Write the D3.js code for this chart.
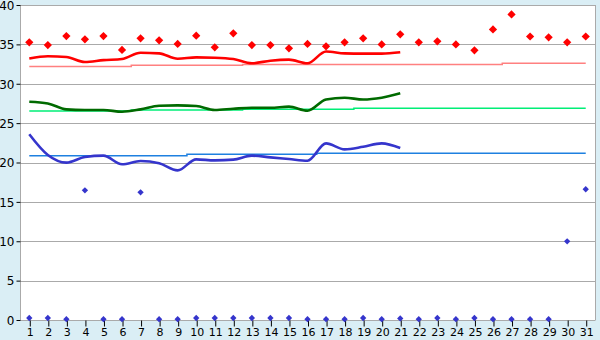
<!DOCTYPE html>
<html>
<head>
<meta charset="utf-8">
<script src="https://cdn.jsdelivr.net/npm/d3@7"></script>
<style>
  html, body { margin: 0; padding: 0; background: #daeef5; }
  svg { display: block; }
  text { font-family: "DejaVu Sans", Verdana, sans-serif; font-size: 11px; fill: #000; }
</style>
</head>
<body>
<svg width="600" height="340"></svg>
<script>
// days of the month
var days = d3.range(1, 32);

// scatter series (all days)
var redPoints = [35.26, 34.92, 36.06, 35.64, 36.06, 34.29, 35.77, 35.51, 35.05, 36.1,
                 34.62, 36.4, 34.92, 34.92, 34.5, 35.05, 34.75, 35.26, 35.77, 35.0,
                 36.28, 35.26, 35.39, 35.0, 34.24, 36.9, 38.8, 36.0, 35.9, 35.26, 36.0];
var bluePoints = [0.25, 0.25, 0.1, 16.47, 0.1, 0.1, 16.21, 0.1, 0.1, 0.25,
                  0.25, 0.25, 0.25, 0.25, 0.25, 0.1, 0.1, 0.1, 0.25, 0.1,
                  0.2, 0.1, 0.25, 0.1, 0.25, 0.1, 0.1, 0.1, 0.1, 9.99, 16.6];

// line series (days 1-21)
var redLine = [33.2, 33.5, 33.4, 32.76, 33.0, 33.14, 33.94, 33.86, 33.18, 33.35,
               33.31, 33.14, 32.6, 32.93, 33.06, 32.6, 34.1, 33.86, 33.82, 33.82, 34.0];
var greenLine = [27.72, 27.5, 26.75, 26.67, 26.67, 26.45, 26.75, 27.2, 27.26, 27.17,
                 26.67, 26.83, 26.96, 26.96, 27.09, 26.58, 28.0, 28.23, 28.0, 28.23, 28.78];
var blueLine = [23.58, 20.95, 19.98, 20.7, 20.87, 19.77, 20.19, 19.9, 19.0, 20.4,
                20.27, 20.36, 20.87, 20.65, 20.44, 20.23, 22.43, 21.67, 22.0, 22.43, 21.84];

// stepped reference series (all days)
var pinkStep = [32.2, 32.2, 32.2, 32.2, 32.2, 32.2, 32.34, 32.34, 32.34, 32.34,
                32.34, 32.34, 32.46, 32.46, 32.46, 32.46, 32.46, 32.46, 32.46, 32.46,
                32.46, 32.46, 32.46, 32.46, 32.46, 32.46, 32.6, 32.6, 32.6, 32.6, 32.6];
var lightGreenStep = [26.54, 26.54, 26.54, 26.54, 26.54, 26.54, 26.67, 26.67, 26.67, 26.67,
                      26.67, 26.67, 26.75, 26.75, 26.75, 26.75, 26.75, 26.75, 26.88, 26.88,
                      26.88, 26.88, 26.88, 26.88, 26.88, 26.88, 26.88, 26.88, 26.88, 26.88, 26.88];
var lightBlueStep = [20.87, 20.87, 20.87, 20.87, 20.87, 20.87, 20.87, 20.87, 20.87, 21.06,
                     21.06, 21.06, 21.06, 21.06, 21.06, 21.06, 21.16, 21.16, 21.16, 21.16,
                     21.16, 21.16, 21.16, 21.16, 21.16, 21.16, 21.16, 21.16, 21.16, 21.16, 21.16];

var yTicks = [0, 5, 10, 15, 20, 25, 30, 35, 40];

var svg = d3.select("svg");

var x = d3.scaleLinear().domain([0.5, 31.5]).range([20, 595]);
var y = d3.scaleLinear().domain([0, 40]).range([320, 5]);

// plot background
svg.append("rect")
    .attr("x", 20.5).attr("y", 5)
    .attr("width", 574.5).attr("height", 315)
    .attr("fill", "#fff");

// horizontal grid
svg.append("g")
  .selectAll("line")
  .data(yTicks)
  .enter().append("line")
    .attr("x1", 20.5).attr("x2", 595)
    .attr("y1", function(d) { return Math.round(y(d)) + 0.5; })
    .attr("y2", function(d) { return Math.round(y(d)) + 0.5; })
    .attr("stroke", "#aaa");

// frame
svg.append("line").attr("x1", 20.5).attr("x2", 20.5).attr("y1", 5).attr("y2", 320.5).attr("stroke", "#aaa");
svg.append("line").attr("x1", 595.5).attr("x2", 595.5).attr("y1", 5).attr("y2", 320.5).attr("stroke", "#aaa");

// y axis
var yAxis = svg.append("g")
    .attr("transform", "translate(20.5,0.5)")
    .call(d3.axisLeft(y).tickValues(yTicks).tickSize(4).tickPadding(2));
yAxis.select(".domain").remove();
yAxis.selectAll(".tick line").attr("stroke", "#000").attr("transform", "translate(0,-0.5)");
yAxis.selectAll("text").attr("fill", "#000").style("font-size", "12px");

// x axis
var xAxis = svg.append("g")
    .attr("transform", "translate(0.5,320.5)")
    .call(d3.axisBottom(x).tickValues(days).tickFormat(d3.format("d")).tickSize(6).tickPadding(2));
xAxis.select(".domain").remove();
xAxis.selectAll(".tick line").attr("stroke", "#000");
xAxis.selectAll("text").attr("fill", "#000");

// stepped lines
function stepLine(values, color) {
  svg.append("path")
    .datum(values)
    .attr("fill", "none")
    .attr("stroke", color)
    .attr("stroke-width", 1.5)
    .attr("d", d3.line()
      .curve(d3.curveStep)
      .x(function(d, i) { return x(days[i]); })
      .y(function(d) { return y(d); }));
}
stepLine(pinkStep, "#ff8080");
stepLine(lightGreenStep, "#00ee77");
stepLine(lightBlueStep, "#1e80e0");

// smooth lines
function smoothLine(values, color) {
  svg.append("path")
    .datum(values)
    .attr("fill", "none")
    .attr("stroke", color)
    .attr("stroke-width", 2.6)
    .attr("d", d3.line()
      .curve(d3.curveMonotoneX)
      .x(function(d, i) { return x(days[i]); })
      .y(function(d) { return y(d); }));
}
smoothLine(redLine, "#ff0000");
smoothLine(greenLine, "#006a00");
smoothLine(blueLine, "#3535cc");

// scatter points (square turned 45 deg, so width = height)
function points(values, color, size) {
  svg.append("g")
    .selectAll("path")
    .data(values)
    .enter().append("path")
      .attr("transform", function(d, i) {
        return "translate(" + x(days[i]) + "," + y(d) + ") rotate(45)";
      })
      .attr("d", d3.symbol().type(d3.symbolSquare).size(size))
      .attr("fill", color);
}
points(redPoints, "#ff0000", 34);
points(bluePoints, "#3535cc", 20);
</script>
</body>
</html>
